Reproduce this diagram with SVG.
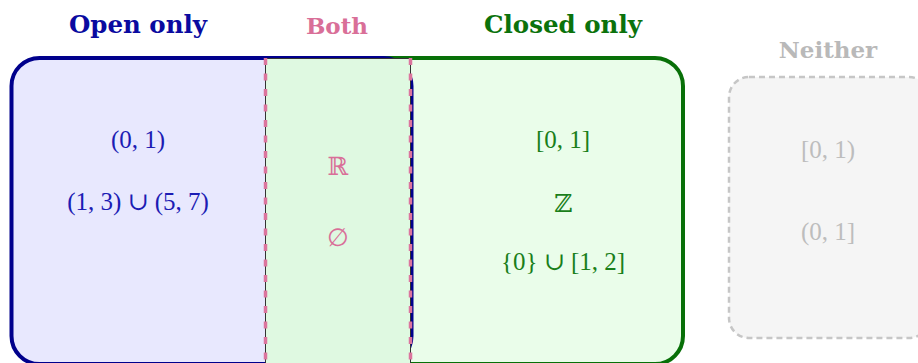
<svg xmlns="http://www.w3.org/2000/svg" width="918" height="363" viewBox="0 0 918 363">
  <style>
    .title { font-family: "DejaVu Serif", "Liberation Serif", serif; font-weight: bold; text-anchor: middle; }
    .math { font-family: "Liberation Serif", "DejaVu Serif", serif; font-size: 25px; text-anchor: middle; }
    .open { fill: #1c1cb4; }
    .closed { fill: #1a7f1a; }
    .both { fill: #d96f98; }
    .neither { fill: #bdbdbd; }
  </style>

  <!-- closed-only region (drawn first, partly under the open region) -->
  <g id="closed-only">
    <rect x="265" y="58" width="418" height="306" rx="28" ry="28" fill="#eafdea" stroke="#087008" stroke-width="4"/>
    <text class="title" x="563" y="33" font-size="24.5" fill="#0b720b">Closed only</text>
    <text class="math closed" x="563" y="148">[0, 1]</text>
    <text class="math closed" x="563" y="212">ℤ</text>
    <text class="math closed" x="563" y="270">{0} ∪ [1, 2]</text>
  </g>

  <!-- open-only region -->
  <g id="open-only">
    <rect x="11.5" y="58" width="400" height="306" rx="28" ry="28" fill="#e8e8fe" stroke="#00008c" stroke-width="4"/>
    <text class="title" x="138" y="33" font-size="24.5" fill="#0a0aa0">Open only</text>
    <text class="math open" x="138" y="148">(0, 1)</text>
    <text class="math open" x="138" y="210">(1, 3) ∪ (5, 7)</text>
  </g>

  <!-- overlap: both open and closed -->
  <g id="both">
    <rect x="265.5" y="58.5" width="145" height="310" fill="#dff9e1" stroke="#333333" stroke-width="1"/>
    <text class="title" x="337" y="34" font-size="23" fill="#d96f98">Both</text>
    <text class="math both" x="338" y="175">ℝ</text>
    <text class="math both" x="338" y="246">∅</text>
  </g>

  <!-- neither open nor closed -->
  <g id="neither">
    <rect x="729" y="77" width="200" height="261" rx="20" ry="20" fill="#f5f5f5" stroke="#c6c6c6" stroke-width="2.5" stroke-dasharray="6 4"/>
    <text class="title" x="828" y="58" font-size="23" fill="#b9b9b9">Neither</text>
    <text class="math neither" x="828" y="158">[0, 1)</text>
    <text class="math neither" x="828" y="240">(0, 1]</text>
  </g>

  <!-- dashed boundaries of the overlap -->
  <g id="connectors" fill="none" stroke="#dc759e" stroke-width="3.5" stroke-dasharray="7 8.5">
    <path d="M265.5 58 V363"/>
    <path d="M410.5 58 V363"/>
  </g>
</svg>
